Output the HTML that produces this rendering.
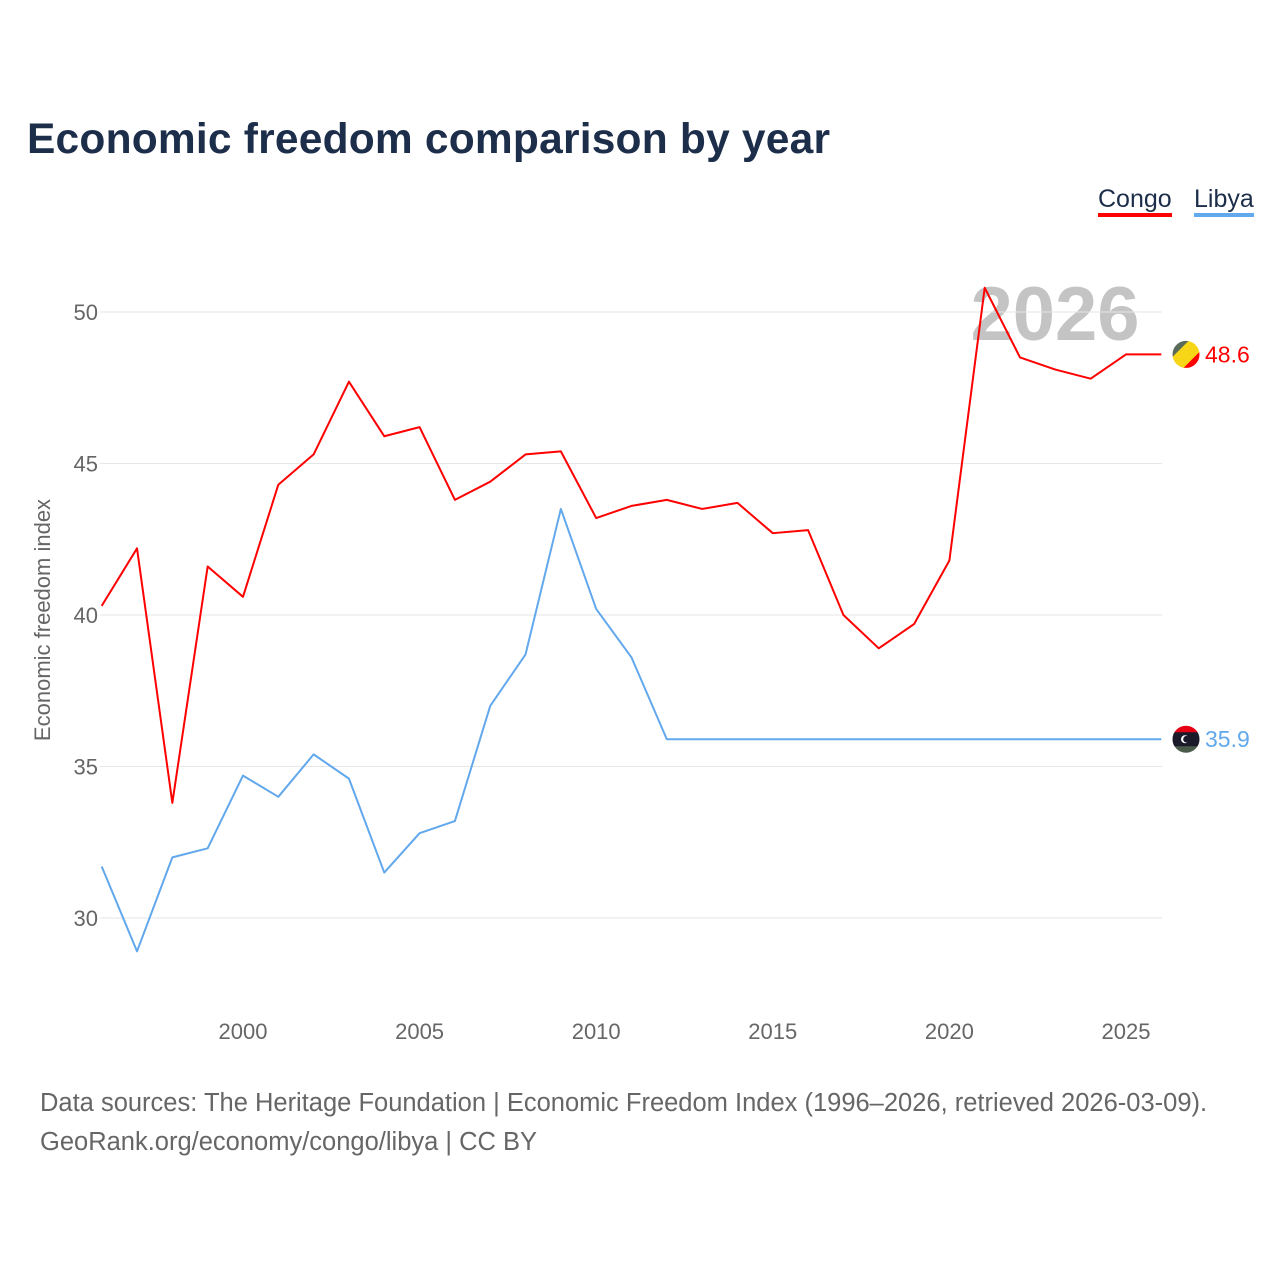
<!DOCTYPE html>
<html><head><meta charset="utf-8">
<style>
body{margin:0;background:#fff;width:1280px;height:1280px;overflow:hidden;font-family:"Liberation Sans",sans-serif;}
</style></head>
<body>
<svg width="1280" height="1280" xmlns="http://www.w3.org/2000/svg">
<defs>
<clipPath id="cc"><circle cx="0" cy="0" r="14"/></clipPath>
</defs>
<text x="27" y="153" font-size="42.5" font-weight="bold" fill="#1c2e4a" textLength="803">Economic freedom comparison by year</text>
<g>
<text x="1098" y="207" font-size="25" fill="#1c2e4a">Congo</text>
<rect x="1098" y="213" width="74" height="4" fill="#f00"/>
<text x="1194" y="207" font-size="25" fill="#1c2e4a">Libya</text>
<rect x="1194" y="213" width="60" height="4" fill="#62a8ec"/>
</g>
<text x="1055" y="340" font-size="76" font-weight="bold" fill="#c4c4c4" text-anchor="middle">2026</text>
<g id="grid"></g>
<g id="series"></g>
<text transform="translate(50,620) rotate(-90)" font-size="22" fill="#666" text-anchor="middle">Economic freedom index</text>
<text x="40" y="1111" font-size="25.5" fill="#666">Data sources: The Heritage Foundation | Economic Freedom Index (1996–2026, retrieved 2026-03-09).</text>
<text x="40" y="1150" font-size="25.5" fill="#666">GeoRank.org/economy/congo/libya | CC BY</text>
</svg>
<script>
const years=[1996,1997,1998,1999,2000,2001,2002,2003,2004,2005,2006,2007,2008,2009,2010,2011,2012,2013,2014,2015,2016,2017,2018,2019,2020,2021,2022,2023,2024,2025,2026];
const congo=[40.3,42.2,33.8,41.6,40.6,44.3,45.3,47.7,45.9,46.2,43.8,44.4,45.3,45.4,43.2,43.6,43.8,43.5,43.7,42.7,42.8,40.0,38.9,39.7,41.8,50.8,48.5,48.1,47.8,48.6,48.6];
const libya=[31.7,28.9,32.0,32.3,34.7,34.0,35.4,34.6,31.5,32.8,33.2,37.0,38.7,43.5,40.2,38.6,35.9,35.9,35.9,35.9,35.9,35.9,35.9,35.9,35.9,35.9,35.9,35.9,35.9,35.9,35.9];
const yTicks=[30,35,40,45,50];
const xTicks=[2000,2005,2010,2015,2020,2025];
const NS="http://www.w3.org/2000/svg";
const xS=v=>101.7+(v-1996)*35.32;
const yS=v=>312+(50-v)*30.3;
const grid=document.getElementById('grid'),ser=document.getElementById('series');
function mk(tag,attrs,parent){const e=document.createElementNS(NS,tag);for(const k in attrs)e.setAttribute(k,attrs[k]);parent.appendChild(e);return e;}
yTicks.forEach(t=>{
 const l=mk('line',{x1:100,x2:1162,y1:yS(t),y2:yS(t),stroke:'#e6e6e6','stroke-width':1},grid);
 
 
 const tx=mk('text',{x:98,y:yS(t)+8,'font-size':22,fill:'#666','text-anchor':'end'},grid);
 tx.textContent=t;
 
 
});
xTicks.forEach(t=>{
 const tx=mk('text',{x:xS(t),y:1039,'font-size':22,fill:'#666','text-anchor':'middle'},grid);
 tx.textContent=t;
 
 
});
function flag(g,name){
 const inner=mk('g',{'clip-path':'url(#cc)'},g);
 if(name==='congo'){
  mk('rect',{x:-15,y:-15,width:30,height:30,fill:'#f00'},inner);
  mk('polygon',{points:'-15,-15 15,-15 -15,15',fill:'#5a6a5a'},inner);
  mk('polygon',{points:'4,-15 15,-15 15,-4 -4,15 -15,15 -15,4',fill:'#f7d618'},inner);
 } else {
  mk('rect',{x:-15,y:-15,width:30,height:30,fill:'#1a1a2a'},inner);
  mk('rect',{x:-15,y:-15,width:30,height:8,fill:'#e70013'},inner);
  mk('rect',{x:-15,y:7,width:30,height:8,fill:'#4a5a4a'},inner);
  mk('circle',{cx:-1,cy:0,r:4,fill:'#fff'},inner);
  mk('circle',{cx:0.5,cy:0,r:3.3,fill:'#1a1a2a'},inner);
 }
 mk('circle',{cx:0,cy:0,r:14,fill:'none',stroke:'#fff','stroke-width':1},g);
}
function line(vals,color,name){
 const p=mk('polyline',{points:vals.map((v,i)=>xS(years[i])+','+yS(v)).join(' '),fill:'none',stroke:color,'stroke-width':2,'stroke-linejoin':'round'},ser);
 
 
 const last=vals[vals.length-1];
 const g=mk('g',{transform:'translate(1186,'+yS(last)+')'},ser);
 
 
 flag(g,name);
 const t=mk('text',{x:1205,y:yS(last)+8,'font-size':23,fill:color},ser);
 t.textContent=last.toFixed(1);
 
 
}
line(congo,'#ff0000','congo');
line(libya,'#62a8ec','libya');
</script>
</body></html>
